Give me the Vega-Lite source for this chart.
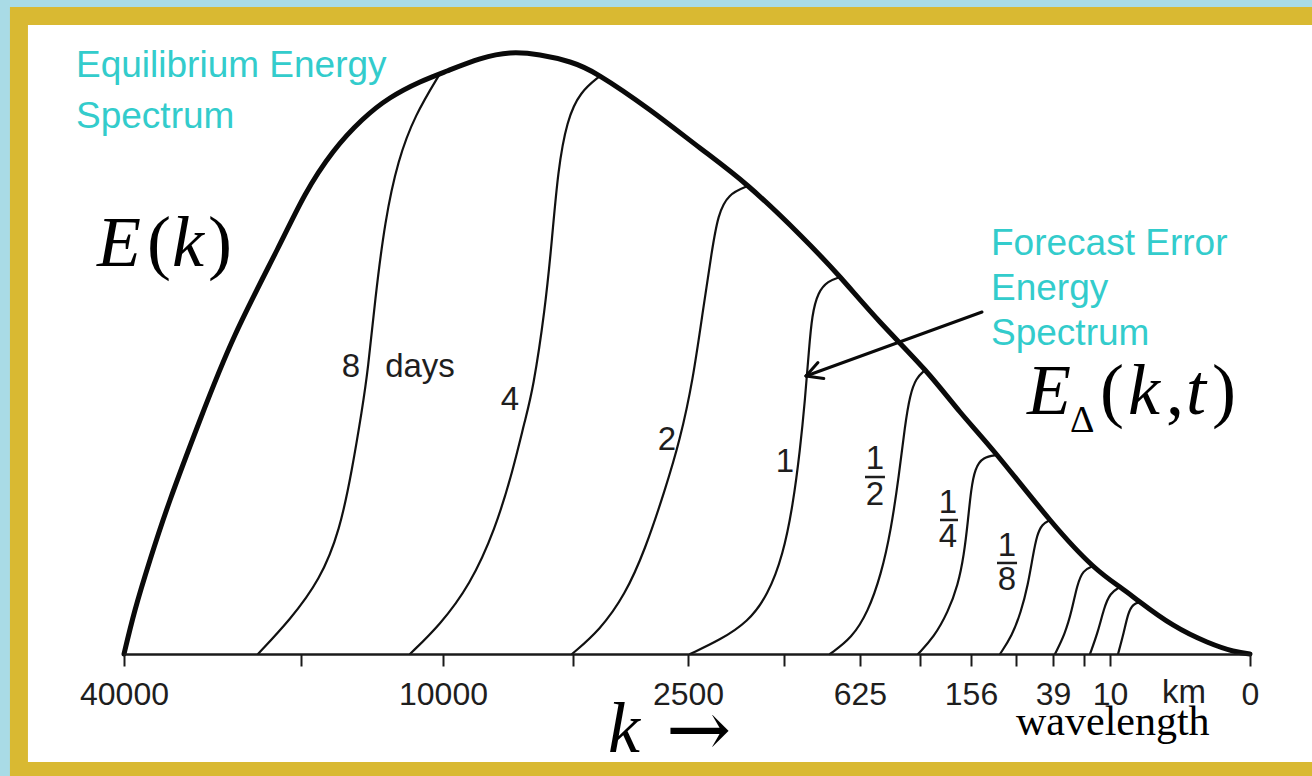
{
  "$schema": "https://vega.github.io/schema/vega-lite/v6.json",
  "autosize": {"type": "none"},
  "width": 1126,
  "height": 602,
  "padding": {"left": 124, "top": 52, "right": 62, "bottom": 122},
  "background": "#a9dbe6",
  "config": {
    "view": {"stroke": null},
    "axisY": {"disable": true},
    "axisX": {
      "domainColor": "#1a1a1a",
      "domainWidth": 2.5,
      "tickColor": "#1a1a1a",
      "tickWidth": 2,
      "tickSize": 12,
      "labelFont": "Liberation Sans",
      "labelFontSize": 32,
      "labelColor": "#1e1e1e",
      "labelPadding": 13,
      "labelOverlap": false,
      "labelFlush": false,
      "labelBound": false,
      "grid": false
    }
  },
  "datasets": {
    "frame": [{"x": -9.33, "x2": 108.5, "y": -19.44, "y2": 105.98}],
    "envelope": [
      {"x": 0, "y": 0}, {"x": 0.98, "y": 7.31}, {"x": 2.31, "y": 15.61}, {"x": 4.09, "y": 25.58},
      {"x": 6.75, "y": 38.87}, {"x": 9.86, "y": 52.99}, {"x": 13.59, "y": 67.11}, {"x": 16.07, "y": 76.25},
      {"x": 18.56, "y": 83.39}, {"x": 21.14, "y": 88.7}, {"x": 23.62, "y": 92.36}, {"x": 26.29, "y": 95.02},
      {"x": 28.69, "y": 96.84}, {"x": 31.62, "y": 98.84}, {"x": 34.28, "y": 99.83},
      {"x": 36.94, "y": 99.5}, {"x": 39.61, "y": 98.34}, {"x": 42.27, "y": 96.01}, {"x": 46.71, "y": 90.37},
      {"x": 51.15, "y": 84.05}, {"x": 55.42, "y": 77.74}, {"x": 60.04, "y": 69.6}, {"x": 63.59, "y": 62.62},
      {"x": 67.14, "y": 55.15}, {"x": 71.14, "y": 47.18}, {"x": 74.25, "y": 40.2}, {"x": 77.53, "y": 33.06},
      {"x": 82.24, "y": 22.26}, {"x": 86.06, "y": 14.62}, {"x": 88.45, "y": 11.13}, {"x": 90.23, "y": 8.64},
      {"x": 93.16, "y": 4.82}, {"x": 96.18, "y": 1.99}, {"x": 98.49, "y": 0.5}, {"x": 100, "y": 0}
    ],
    "errors": [
      {"t": "8 days", "x": 11.9, "y": 0}, {"t": "8 days", "x": 14.74, "y": 5.65}, {"t": "8 days", "x": 17.41, "y": 12.29},
      {"t": "8 days", "x": 19.18, "y": 20.6}, {"t": "8 days", "x": 20.25, "y": 30.56}, {"t": "8 days", "x": 21.14, "y": 40.53},
      {"t": "8 days", "x": 21.67, "y": 47.18}, {"t": "8 days", "x": 22.29, "y": 58.8}, {"t": "8 days", "x": 23.18, "y": 72.09},
      {"t": "8 days", "x": 24.33, "y": 82.06}, {"t": "8 days", "x": 25.84, "y": 89.53}, {"t": "8 days", "x": 28.06, "y": 96.4},

      {"t": "4 days", "x": 25.4, "y": 0}, {"t": "4 days", "x": 28.06, "y": 4.82}, {"t": "4 days", "x": 30.73, "y": 11.46},
      {"t": "4 days", "x": 32.95, "y": 20.6}, {"t": "4 days", "x": 34.55, "y": 30.56}, {"t": "4 days", "x": 35.61, "y": 38.87},
      {"t": "4 days", "x": 36.32, "y": 43.85}, {"t": "4 days", "x": 37.39, "y": 57.14}, {"t": "4 days", "x": 38.01, "y": 68.77},
      {"t": "4 days", "x": 38.54, "y": 80.4}, {"t": "4 days", "x": 39.34, "y": 88.7}, {"t": "4 days", "x": 40.5, "y": 93.36},
      {"t": "4 days", "x": 42.27, "y": 96.0},

      {"t": "2 days", "x": 39.79, "y": 0}, {"t": "2 days", "x": 42.27, "y": 3.99}, {"t": "2 days", "x": 44.49, "y": 9.8},
      {"t": "2 days", "x": 46.27, "y": 17.28}, {"t": "2 days", "x": 48.05, "y": 27.24}, {"t": "2 days", "x": 49.38, "y": 35.55},
      {"t": "2 days", "x": 50.53, "y": 45.51}, {"t": "2 days", "x": 51.42, "y": 57.14}, {"t": "2 days", "x": 52.22, "y": 67.11},
      {"t": "2 days", "x": 52.75, "y": 72.92}, {"t": "2 days", "x": 53.64, "y": 76.41}, {"t": "2 days", "x": 55.42, "y": 77.74},

      {"t": "1 day", "x": 50.27, "y": 0}, {"t": "1 day", "x": 52.93, "y": 2.33}, {"t": "1 day", "x": 55.42, "y": 5.32},
      {"t": "1 day", "x": 57.19, "y": 9.8}, {"t": "1 day", "x": 58.53, "y": 16.45}, {"t": "1 day", "x": 59.41, "y": 24.75},
      {"t": "1 day", "x": 60.04, "y": 33.89}, {"t": "1 day", "x": 60.48, "y": 42.19}, {"t": "1 day", "x": 60.83, "y": 50.5},
      {"t": "1 day", "x": 61.1, "y": 56.31}, {"t": "1 day", "x": 61.63, "y": 60.13}, {"t": "1 day", "x": 62.52, "y": 61.96},
      {"t": "1 day", "x": 63.59, "y": 62.62},

      {"t": "1/2 day", "x": 62.7, "y": 0}, {"t": "1/2 day", "x": 64.65, "y": 2.66}, {"t": "1/2 day", "x": 66.07, "y": 6.98},
      {"t": "1/2 day", "x": 67.23, "y": 13.12}, {"t": "1/2 day", "x": 68.12, "y": 20.6}, {"t": "1/2 day", "x": 68.83, "y": 29.73},
      {"t": "1/2 day", "x": 69.36, "y": 38.04}, {"t": "1/2 day", "x": 69.8, "y": 43.02}, {"t": "1/2 day", "x": 70.34, "y": 45.85},
      {"t": "1/2 day", "x": 71.14, "y": 47.18},

      {"t": "1/4 day", "x": 70.52, "y": 0}, {"t": "1/4 day", "x": 71.94, "y": 2.82}, {"t": "1/4 day", "x": 73.18, "y": 6.98},
      {"t": "1/4 day", "x": 74.07, "y": 11.46}, {"t": "1/4 day", "x": 74.6, "y": 16.45}, {"t": "1/4 day", "x": 74.96, "y": 22.26},
      {"t": "1/4 day", "x": 75.22, "y": 27.24}, {"t": "1/4 day", "x": 75.58, "y": 30.9}, {"t": "1/4 day", "x": 76.29, "y": 32.72},
      {"t": "1/4 day", "x": 77.53, "y": 33.06},

      {"t": "1/8 day", "x": 77.8, "y": 0}, {"t": "1/8 day", "x": 78.86, "y": 2.99}, {"t": "1/8 day", "x": 79.66, "y": 6.98},
      {"t": "1/8 day", "x": 80.28, "y": 11.46}, {"t": "1/8 day", "x": 80.73, "y": 16.45}, {"t": "1/8 day", "x": 81.08, "y": 19.77},
      {"t": "1/8 day", "x": 81.53, "y": 21.59}, {"t": "1/8 day", "x": 82.24, "y": 22.26},

      {"t": "1/16 day", "x": 82.68, "y": 0}, {"t": "1/16 day", "x": 83.57, "y": 3.32}, {"t": "1/16 day", "x": 84.19, "y": 7.31},
      {"t": "1/16 day", "x": 84.64, "y": 11.46}, {"t": "1/16 day", "x": 85.17, "y": 13.95}, {"t": "1/16 day", "x": 86.06, "y": 14.62},

      {"t": "1/32 day", "x": 85.79, "y": 0}, {"t": "1/32 day", "x": 86.5, "y": 3.65}, {"t": "1/32 day", "x": 87.03, "y": 7.64},
      {"t": "1/32 day", "x": 87.57, "y": 10.13}, {"t": "1/32 day", "x": 88.45, "y": 11.13},

      {"t": "1/64 day", "x": 88.28, "y": 0}, {"t": "1/64 day", "x": 88.81, "y": 3.65}, {"t": "1/64 day", "x": 89.17, "y": 6.81},
      {"t": "1/64 day", "x": 89.61, "y": 8.31}, {"t": "1/64 day", "x": 90.23, "y": 8.64}
    ],
    "arrow": [
      {"x": 76.2, "y": 56.81, "x2": 60.57, "y2": 46.18},
      {"x": 60.57, "y": 46.18, "x2": 62.15, "y2": 45.76},
      {"x": 60.57, "y": 46.18, "x2": 61.63, "y2": 48.41}
    ],
    "bars": [
      {"x": 65.81, "x2": 67.58, "y": 29.4},
      {"x": 72.47, "x2": 74.07, "y": 22.26},
      {"x": 77.53, "x2": 79.31, "y": 15.12}
    ],
    "labels": [
      {"x": 20.16, "y": 47.67, "text": "8"}, {"x": 26.29, "y": 47.67, "text": "days"},
      {"x": 34.28, "y": 42.19, "text": "4"}, {"x": 48.22, "y": 35.55, "text": "2"},
      {"x": 58.7, "y": 31.89, "text": "1"},
      {"x": 66.7, "y": 32.39, "text": "1"}, {"x": 66.7, "y": 26.41, "text": "2"},
      {"x": 73.18, "y": 25.08, "text": "1"}, {"x": 73.18, "y": 19.44, "text": "4"},
      {"x": 78.42, "y": 17.94, "text": "1"}, {"x": 78.42, "y": 12.29, "text": "8"},
      {"x": 94.14, "y": -6.48, "text": "km"}
    ],
    "notes": [
      {"x": -4.26, "y": 95.85, "text": "Equilibrium Energy"},
      {"x": -4.26, "y": 87.38, "text": "Spectrum"},
      {"x": 77.0, "y": 66.28, "text": "Forecast Error"},
      {"x": 77.0, "y": 58.8, "text": "Energy"},
      {"x": 77.0, "y": 51.33, "text": "Spectrum"}
    ],
    "math": [
      {"x": -2.4, "y": 64.45, "text": "E", "kind": "variable"},
      {"x": 2.04, "y": 64.45, "text": "(", "kind": "symbol"},
      {"x": 4.26, "y": 64.45, "text": "k", "kind": "variable"},
      {"x": 7.46, "y": 64.45, "text": ")", "kind": "symbol"},
      {"x": 80.2, "y": 39.87, "text": "E", "kind": "variable"},
      {"x": 84.01, "y": 36.88, "text": "Δ", "kind": "subscript"},
      {"x": 86.68, "y": 39.87, "text": "(", "kind": "symbol"},
      {"x": 89.17, "y": 39.87, "text": "k", "kind": "variable"},
      {"x": 92.54, "y": 39.87, "text": ",", "kind": "symbol"},
      {"x": 94.32, "y": 39.87, "text": "t", "kind": "variable"},
      {"x": 96.63, "y": 39.87, "text": ")", "kind": "symbol"},
      {"x": 42.98, "y": -16.28, "text": "k", "kind": "variable"},
      {"x": 48.14, "y": -16.94, "text": "→", "kind": "operator"},
      {"x": 79.22, "y": -13.46, "text": "wavelength", "kind": "word"}
    ]
  },
  "layer": [
    {
      "data": {"name": "frame"},
      "mark": {"type": "rect", "fill": "#ffffff", "stroke": "#d9b932", "strokeWidth": 18},
      "encoding": {
        "x": {
          "field": "x", "type": "quantitative", "title": null,
          "scale": {"domain": [0, 100], "nice": false, "zero": false},
          "axis": {
            "zindex": 1,
            "values": [0, 15.72, 28.33, 39.88, 50.09, 58.61, 65.36, 70.69, 75.22, 79.22, 82.5, 85.26, 87.57, 100],
            "labelExpr": "datum.value == 0 ? '40000' : datum.value == 28.33 ? '10000' : datum.value == 50.09 ? '2500' : datum.value == 65.36 ? '625' : datum.value == 75.22 ? '156' : datum.value == 82.5 ? '39' : datum.value == 87.57 ? '10' : datum.value == 100 ? '0' : ''"
          }
        },
        "x2": {"field": "x2"},
        "y": {"field": "y", "type": "quantitative", "title": null, "scale": {"domain": [0, 100], "nice": false, "zero": false}},
        "y2": {"field": "y2"}
      }
    },
    {
      "data": {"name": "errors"},
      "mark": {"type": "line", "color": "#111111", "strokeWidth": 2.2, "interpolate": "basis", "strokeCap": "round"},
      "encoding": {
        "x": {"field": "x", "type": "quantitative", "title": null},
        "y": {"field": "y", "type": "quantitative", "title": null},
        "detail": {"field": "t", "type": "nominal"}
      }
    },
    {
      "data": {"name": "envelope"},
      "mark": {"type": "line", "color": "#0a0a0a", "strokeWidth": 5, "interpolate": "natural", "strokeCap": "round"},
      "encoding": {
        "x": {"field": "x", "type": "quantitative", "title": null},
        "y": {"field": "y", "type": "quantitative", "title": null}
      }
    },
    {
      "data": {"name": "arrow"},
      "mark": {"type": "rule", "color": "#0a0a0a", "strokeWidth": 3, "strokeCap": "round"},
      "encoding": {
        "x": {"field": "x", "type": "quantitative", "title": null},
        "y": {"field": "y", "type": "quantitative", "title": null},
        "x2": {"field": "x2"},
        "y2": {"field": "y2"}
      }
    },
    {
      "data": {"name": "bars"},
      "mark": {"type": "rule", "color": "#1e1e1e", "strokeWidth": 2.5},
      "encoding": {
        "x": {"field": "x", "type": "quantitative", "title": null},
        "x2": {"field": "x2"},
        "y": {"field": "y", "type": "quantitative", "title": null}
      }
    },
    {
      "data": {"name": "labels"},
      "mark": {"type": "text", "font": "Liberation Sans", "fontSize": 33, "color": "#1e1e1e", "align": "center", "baseline": "middle"},
      "encoding": {
        "x": {"field": "x", "type": "quantitative", "title": null},
        "y": {"field": "y", "type": "quantitative", "title": null},
        "text": {"field": "text"}
      }
    },
    {
      "data": {"name": "notes"},
      "mark": {"type": "text", "font": "Liberation Sans", "fontSize": 37, "color": "#33cccc", "align": "left", "baseline": "alphabetic"},
      "encoding": {
        "x": {"field": "x", "type": "quantitative", "title": null},
        "y": {"field": "y", "type": "quantitative", "title": null},
        "text": {"field": "text"}
      }
    },
    {
      "data": {"name": "math"},
      "transform": [{"filter": "datum.kind == 'variable'"}],
      "mark": {"type": "text", "font": "Liberation Serif", "fontStyle": "italic", "fontSize": 72, "color": "#000000", "align": "left", "baseline": "alphabetic"},
      "encoding": {
        "x": {"field": "x", "type": "quantitative", "title": null},
        "y": {"field": "y", "type": "quantitative", "title": null},
        "text": {"field": "text"}
      }
    },
    {
      "data": {"name": "math"},
      "transform": [{"filter": "datum.kind == 'symbol'"}],
      "mark": {"type": "text", "font": "Liberation Serif", "fontSize": 72, "color": "#000000", "align": "left", "baseline": "alphabetic"},
      "encoding": {
        "x": {"field": "x", "type": "quantitative", "title": null},
        "y": {"field": "y", "type": "quantitative", "title": null},
        "text": {"field": "text"}
      }
    },
    {
      "data": {"name": "math"},
      "transform": [{"filter": "datum.kind == 'operator'"}],
      "mark": {"type": "text", "font": "DejaVu Serif", "fontSize": 78, "color": "#000000", "align": "left", "baseline": "alphabetic"},
      "encoding": {
        "x": {"field": "x", "type": "quantitative", "title": null},
        "y": {"field": "y", "type": "quantitative", "title": null},
        "text": {"field": "text"}
      }
    },
    {
      "data": {"name": "math"},
      "transform": [{"filter": "datum.kind == 'subscript'"}],
      "mark": {"type": "text", "font": "Liberation Serif", "fontSize": 38, "color": "#000000", "align": "left", "baseline": "alphabetic"},
      "encoding": {
        "x": {"field": "x", "type": "quantitative", "title": null},
        "y": {"field": "y", "type": "quantitative", "title": null},
        "text": {"field": "text"}
      }
    },
    {
      "data": {"name": "math"},
      "transform": [{"filter": "datum.kind == 'word'"}],
      "mark": {"type": "text", "font": "Liberation Serif", "fontSize": 42, "color": "#000000", "align": "left", "baseline": "alphabetic"},
      "encoding": {
        "x": {"field": "x", "type": "quantitative", "title": null},
        "y": {"field": "y", "type": "quantitative", "title": null},
        "text": {"field": "text"}
      }
    }
  ]
}
